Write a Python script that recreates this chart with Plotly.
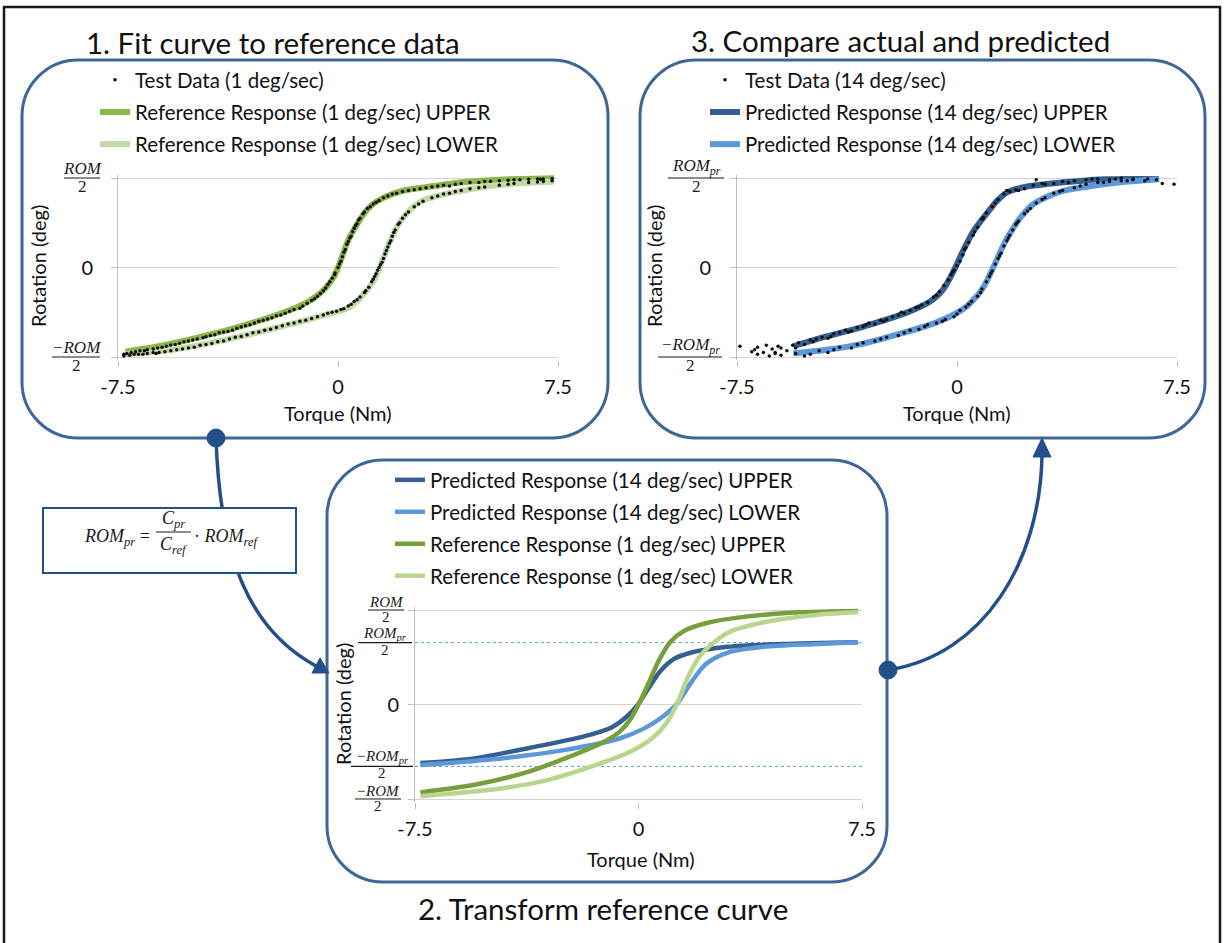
import plotly.graph_objects as go

W, H = 1225, 943
FONT = "Lato, 'Open Sans', sans-serif"
SERIF = "'Liberation Serif', 'DejaVu Serif', serif"

# ---------------- data ----------------
X_TICK_VALS = [-7.5, 0, 7.5]
X_TICK_TEXT = ["-7.5", "0", "7.5"]
Y_TICK_VALS = [0]
Y_TICK_TEXT = ["0"]
Y_EDGE_VALS = [-1, 1]          # ±ROM/2 (or ±ROM_pr/2) gridlines, labelled as fractions
ROM_PR_RATIO = 0.655           # ROM_pr / ROM, panel 2 dotted lines

# Panel 1 : reference fit (1 deg/sec), y in units of ROM/2
REF1_UPPER_X = [-7.25, -6.2, -5.0, -4.0, -3.1, -2.4, -1.83, -1.4, -1.06, -0.8, -0.55, -0.35, -0.17, 0.0, 0.18,
                0.34, 0.5, 0.66, 0.82, 0.98, 1.2, 1.49, 1.85, 2.26, 2.7, 3.28, 3.9, 4.56, 5.2, 5.84, 6.6, 7.37]
REF1_UPPER_Y = [-0.94, -0.885, -0.80, -0.72, -0.635, -0.565, -0.50, -0.445, -0.39, -0.335, -0.27, -0.20, -0.12, 0.0,
                0.16, 0.30, 0.40, 0.49, 0.57, 0.64, 0.71, 0.77, 0.82, 0.86, 0.885, 0.91, 0.94, 0.96, 0.975, 0.985,
                0.993, 1.0]
REF1_LOWER_X = [-7.25, -6.5, -5.66, -4.7, -3.74, -2.8, -1.83, -1.2, -0.55, 0.22, 0.5, 0.73, 0.95, 1.11, 1.28, 1.43,
                1.56, 1.69, 1.85, 2.0, 2.2, 2.39, 2.6, 2.9, 3.4, 3.92, 4.5, 5.2, 6.2, 7.37]
REF1_LOWER_Y = [-0.97, -0.95, -0.92, -0.865, -0.80, -0.73, -0.65, -0.60, -0.54, -0.47, -0.42, -0.35, -0.27, -0.20,
                -0.11, 0.01, 0.12, 0.23, 0.35, 0.45, 0.55, 0.62, 0.69, 0.75, 0.80, 0.84, 0.875, 0.91, 0.94, 0.96]

TEST1_UPPER_X = [-7.2, -7.05, -6.9, -6.75, -6.5, -6.3, -6.0, -5.85, -5.7, -5.4, -5.1, -4.8, -4.6, -4.5, -4.2, -3.9,
                 -3.75, -3.6, -3.3, -3.0, -2.85, -2.7, -2.4, -2.1, -1.95, -1.8, -1.5, -1.3, -1.2, -0.9, -0.8, -0.7,
                 -0.5, -0.42, -0.35, -0.2, -0.12, -0.1, 0.0, 0.05, 0.1, 0.2, 0.25, 0.3, 0.4, 0.45, 0.5, 0.6, 0.7,
                 0.75, 0.85, 1.0, 1.1, 1.2, 1.4, 1.55, 1.7, 2.0, 2.2, 2.4, 2.8, 3.0, 3.2, 3.6, 3.8, 4.0, 4.5, 4.8,
                 5.0, 5.5, 5.8, 6.0, 6.5, 6.8, 7.0, 7.3,
                 -7.3, -6.6, -6.15, -5.55, -5.25, -4.95, -4.35, -4.05, -3.45, -3.15, -2.55, -2.25, -1.65, -1.05,
                 -0.6, -0.28, 0.15, 0.35, 0.55, 0.65, 0.9, 1.3, 1.85, 2.6, 3.4, 4.2, 5.2, 6.2, 6.9]
TEST1_UPPER_Y = [-0.96, -0.95, -0.94, -0.93, -0.92, -0.91, -0.89, -0.88, -0.865, -0.845, -0.82, -0.80, -0.785, -0.775,
                 -0.75, -0.72, -0.715, -0.70, -0.665, -0.64, -0.62, -0.60, -0.575, -0.54, -0.53, -0.51, -0.47, -0.455,
                 -0.43, -0.37, -0.35, -0.32, -0.26, -0.23, -0.19, -0.12, -0.08, -0.06, 0.0, 0.04, 0.07, 0.17, 0.20,
                 0.26, 0.33, 0.35, 0.40, 0.47, 0.53, 0.55, 0.60, 0.66, 0.68, 0.71, 0.75, 0.78, 0.80, 0.83, 0.85,
                 0.86, 0.88, 0.89, 0.90, 0.92, 0.91, 0.93, 0.95, 0.95, 0.96, 0.97, 0.975, 0.98, 0.985, 0.99,
                 0.99, 0.995,
                 -0.97, -0.93, -0.90, -0.86, -0.83, -0.81, -0.76, -0.73, -0.68, -0.65, -0.59, -0.56, -0.49, -0.40,
                 -0.29, -0.16, 0.12, 0.29, 0.44, 0.49, 0.62, 0.73, 0.82, 0.87, 0.91, 0.94, 0.965, 0.98, 0.985]
TEST1_LOWER_X = [-7.1, -6.95, -6.8, -6.5, -6.3, -6.1, -5.7, -5.5, -5.3, -4.9, -4.7, -4.5, -4.1, -3.9, -3.7, -3.3,
                 -3.1, -2.9, -2.5, -2.3, -2.1, -1.7, -1.5, -1.3, -0.9, -0.7, -0.5, -0.2, -0.05, 0.1, 0.35, 0.45,
                 0.55, 0.75, 0.9, 1.05, 1.15, 1.25, 1.3, 1.35, 1.45, 1.5, 1.55, 1.65, 1.75, 1.8, 1.85, 1.95, 2.05,
                 2.2, 2.4, 2.6, 2.9, 3.2, 3.6, 4.0, 4.2, 4.5, 5.0, 5.5, 6.0, 6.5, 7.0, 7.3,
                 -7.3, -6.65, -6.2, -5.9, -5.1, -4.3, -3.5, -2.7, -1.9, -1.1, -0.35, 0.2, 0.65, 0.95, 1.2, 1.4,
                 1.6, 1.7, 1.9, 2.1, 2.3, 2.75, 3.4, 3.8, 4.8, 5.8, 6.8]
TEST1_LOWER_Y = [-0.98, -0.97, -0.97, -0.96, -0.95, -0.95, -0.93, -0.92, -0.91, -0.89, -0.87, -0.86, -0.83, -0.82,
                 -0.80, -0.77, -0.75, -0.73, -0.70, -0.69, -0.67, -0.63, -0.62, -0.60, -0.57, -0.55, -0.53, -0.50,
                 -0.49, -0.47, -0.43, -0.41, -0.38, -0.33, -0.28, -0.22, -0.16, -0.10, -0.07, -0.03, 0.03, 0.06,
                 0.10, 0.19, 0.27, 0.30, 0.35, 0.42, 0.48, 0.55, 0.62, 0.68, 0.74, 0.78, 0.82, 0.85, 0.86, 0.88,
                 0.90, 0.92, 0.94, 0.95, 0.96, 0.97,
                 -0.99, -0.97, -0.96, -0.94, -0.90, -0.85, -0.78, -0.72, -0.65, -0.59, -0.51, -0.46, -0.36, -0.26,
                 -0.13, 0.0, 0.15, 0.23, 0.39, 0.50, 0.59, 0.71, 0.80, 0.83, 0.89, 0.93, 0.955]

# Panel 3 : predicted response (14 deg/sec), y in units of ROM_pr/2
PRED3_UPPER_X = [-5.58, -4.45, -3.19, -1.93, -1.4, -0.92, -0.62, -0.42, -0.10, 0.21, 0.59, 1.10, 1.38, 1.66, 2.0,
                 2.48, 3.1, 3.74, 4.4, 5.0, 5.9, 6.89]
PRED3_UPPER_Y = [-0.88, -0.77, -0.66, -0.53, -0.46, -0.38, -0.30, -0.22, -0.03, 0.19, 0.42, 0.64, 0.75, 0.83, 0.875,
                 0.91, 0.935, 0.955, 0.972, 0.985, 0.99, 0.99]
PRED3_LOWER_X = [-5.58, -4.45, -3.19, -1.93, -0.67, 0.09, 0.35, 0.59, 0.8, 0.97, 1.12, 1.28, 1.47, 1.66, 1.88, 2.10,
                 2.35, 2.61, 3.0, 3.36, 3.8, 4.37, 5.0, 5.63, 6.3, 6.89]
PRED3_LOWER_Y = [-0.96, -0.92, -0.85, -0.74, -0.61, -0.49, -0.43, -0.35, -0.27, -0.18, -0.08, 0.03, 0.17, 0.30, 0.42,
                 0.53, 0.63, 0.71, 0.78, 0.83, 0.87, 0.90, 0.93, 0.955, 0.972, 0.985]

TEST3_UPPER_X = [-7.4, -6.8, -6.5, -6.3, -6.2, -6.0, -5.8, -5.6, -5.4, -5.2, -5.0, -4.8, -4.6, -4.4, -4.2, -4.0, -3.8,
                 -3.6, -3.4, -3.2, -3.0, -2.8, -2.6, -2.4, -2.2, -2.0, -1.8, -1.6, -1.4, -1.2, -1.0, -0.8, -0.6,
                 -0.45, -0.3, -0.2, -0.1, 0.0, 0.1, 0.2, 0.3, 0.4, 0.55, 0.7, 0.85, 1.0, 1.2, 1.4, 1.6, 1.8, 2.0,
                 2.3, 2.6, 2.7, 3.0, 3.3, 3.6, 4.0, 4.4, 4.8, 5.2, 5.6, 6.0, 6.4,
                 -6.9, -6.1, -5.5, -4.9, -4.3, -3.7, -3.1, -2.5, -1.9, -1.3, -0.7, -0.15, 0.25, 0.6, 0.9, 1.3, 1.7,
                 2.1, 2.9, 3.8, 4.6, 5.4]
TEST3_UPPER_Y = [-0.88, -0.89, -0.87, -0.91, -0.96, -0.90, -0.93, -0.87, -0.84, -0.86, -0.81, -0.80, -0.78, -0.79,
                 -0.74, -0.73, -0.70, -0.71, -0.67, -0.66, -0.62, -0.63, -0.59, -0.58, -0.55, -0.53, -0.51, -0.48,
                 -0.45, -0.42, -0.39, -0.33, -0.27, -0.20, -0.14, -0.08, -0.03, 0.02, 0.07, 0.14, 0.22, 0.28, 0.36,
                 0.45, 0.54, 0.61, 0.68, 0.76, 0.82, 0.85, 0.87, 0.88, 0.92, 0.98, 0.93, 0.94, 0.96, 0.97, 0.98,
                 0.99, 0.98, 1.0, 0.99, 0.97,
                 -0.92, -0.88, -0.90, -0.83, -0.77, -0.72, -0.64, -0.60, -0.50, -0.44, -0.31, -0.05, 0.20, 0.40,
                 0.56, 0.72, 0.86, 0.86, 0.94, 0.95, 0.99, 0.99]
TEST3_LOWER_X = [-7.0, -6.6, -6.4, -6.0, -5.5, -5.0, -4.7, -4.4, -4.0, -3.6, -3.2, -2.8, -2.4, -2.0, -1.6, -1.3, -1.0,
                 -0.7, -0.4, -0.1, 0.1, 0.3, 0.5, 0.7, 0.85, 1.0, 1.1, 1.2, 1.3, 1.4, 1.5, 1.6, 1.7, 1.8, 1.9, 2.0,
                 2.1, 2.3, 2.5, 2.7, 3.0, 3.3, 3.6, 4.0, 4.4, 4.8, 5.2, 5.6, 6.0, 6.5, 7.0, 7.4,
                 -6.8, -6.2, -5.2, -4.2, -3.4, -2.6, -1.8, -1.1, -0.5, 0.0, 0.4, 0.8, 1.15, 1.45, 1.75, 2.05, 2.4,
                 2.9, 3.5, 4.2, 5.0, 5.8, 6.8]
TEST3_LOWER_Y = [-0.94, -0.95, -0.99, -0.98, -0.96, -0.97, -0.93, -0.95, -0.89, -0.90, -0.84, -0.82, -0.78, -0.76,
                 -0.70, -0.69, -0.64, -0.62, -0.58, -0.55, -0.48, -0.44, -0.38, -0.32, -0.24, -0.16, -0.10, -0.04,
                 0.04, 0.10, 0.16, 0.24, 0.30, 0.36, 0.42, 0.48, 0.52, 0.60, 0.66, 0.72, 0.78, 0.83, 0.86, 0.89,
                 0.93, 0.95, 0.96, 0.97, 0.98, 0.99, 0.94, 0.93,
                 -0.97, -0.95, -0.99, -0.92, -0.86, -0.80, -0.73, -0.66, -0.60, -0.52, -0.41, -0.28, -0.07, 0.13,
                 0.33, 0.50, 0.63, 0.76, 0.85, 0.91, 0.95, 0.97, 0.98]

# Panel 2 : transform, y in units of ROM/2
PRED2_UPPER_X = [-7.32, -5.5, -3.68, -1.86, -0.89, -0.40, -0.04, 0.33, 0.75, 1.18, 1.78, 3.0, 4.82, 7.37]
PRED2_UPPER_Y = [-0.62, -0.57, -0.46, -0.34, -0.24, -0.13, -0.01, 0.17, 0.36, 0.48, 0.55, 0.61, 0.64, 0.66]
PRED2_LOWER_X = [-7.32, -4.89, -2.46, -0.64, 0.21, 0.81, 1.30, 1.78, 2.27, 3.0, 4.21, 6.03, 7.37]
PRED2_LOWER_Y = [-0.64, -0.58, -0.48, -0.36, -0.25, -0.13, 0.01, 0.24, 0.43, 0.55, 0.61, 0.64, 0.66]
REF2_UPPER_X = [-7.32, -5.5, -3.68, -2.46, -1.25, -0.64, -0.28, 0.02, 0.33, 0.69, 1.06, 1.54, 2.39, 3.6, 5.42, 7.37]
REF2_UPPER_Y = [-0.93, -0.85, -0.71, -0.57, -0.41, -0.29, -0.16, 0.01, 0.22, 0.47, 0.66, 0.78, 0.87, 0.93, 0.975, 0.99]
REF2_LOWER_X = [-7.32, -4.89, -3.07, -1.25, -0.28, 0.45, 0.93, 1.30, 1.66, 2.03, 2.39, 3.0, 4.21, 6.03, 7.37]
REF2_LOWER_Y = [-0.97, -0.90, -0.80, -0.62, -0.50, -0.36, -0.20, 0.01, 0.29, 0.50, 0.62, 0.76, 0.87, 0.95, 0.975]

# colours
GREEN_UP, GREEN_LO = "#8CB648", "#C4DAA6"
GREEN2_UP, GREEN2_LO = "#77A03C", "#B9D58E"
BLUE_UP, BLUE_LO = "#355E91", "#5C98DA"
BOX = "#3E6799"
CONN = "#23508A"


# ---------------- helpers (pixel -> paper) ----------------
def X(px):
    return px / W


def Y(py):
    return 1 - py / H


YPAD = 0.03


def ydomain(top_px, bot_px):
    unit = (bot_px - top_px) / 2.0
    return [Y(bot_px + YPAD * unit), Y(top_px - YPAD * unit)]


DOM_Y_TOP = ydomain(178, 357)
DOM_Y_MID = ydomain(610, 799)


def val_to_paper(dom, v):
    return dom[0] + (v + 1 + YPAD) / (2 + 2 * YPAD) * (dom[1] - dom[0])


fig = go.Figure()


def line_trace(xs, ys, color, width, name, leg, rank, xa, ya):
    fig.add_trace(go.Scatter(x=xs, y=ys, mode="lines",
                             line=dict(color=color, width=width, shape="spline", smoothing=0.8),
                             name=name, legend=leg, legendrank=rank, legendgroup=f"{leg}-{rank}",
                             xaxis=xa, yaxis=ya, hoverinfo="skip"))


def dots_trace(xs, ys, name, leg, rank, xa, ya):
    fig.add_trace(go.Scatter(x=xs, y=ys, mode="markers", marker=dict(color="#111", size=3.5), cliponaxis=False,
                             name=name, legend=leg, legendrank=rank, legendgroup=f"{leg}-{rank}",
                             xaxis=xa, yaxis=ya, hoverinfo="skip"))


# Panel 1
line_trace(REF1_UPPER_X, REF1_UPPER_Y, GREEN_UP, 6, "Reference Response (1 deg/sec) UPPER", "legend", 2, "x", "y")
line_trace(REF1_LOWER_X, REF1_LOWER_Y, GREEN_LO, 6, "Reference Response (1 deg/sec) LOWER", "legend", 3, "x", "y")
dots_trace(TEST1_UPPER_X + TEST1_LOWER_X, TEST1_UPPER_Y + TEST1_LOWER_Y, "Test Data (1 deg/sec)", "legend", 1, "x", "y")
# Panel 3
line_trace(PRED3_UPPER_X, PRED3_UPPER_Y, BLUE_UP, 6, "Predicted Response (14 deg/sec) UPPER", "legend2", 2, "x2", "y2")
line_trace(PRED3_LOWER_X, PRED3_LOWER_Y, BLUE_LO, 6, "Predicted Response (14 deg/sec) LOWER", "legend2", 3, "x2", "y2")
dots_trace(TEST3_UPPER_X + TEST3_LOWER_X, TEST3_UPPER_Y + TEST3_LOWER_Y, "Test Data (14 deg/sec)", "legend2", 1, "x2", "y2")
# Panel 2
line_trace(PRED2_UPPER_X, PRED2_UPPER_Y, BLUE_UP, 4.5, "Predicted Response (14 deg/sec) UPPER", "legend3", 1, "x3", "y3")
line_trace(PRED2_LOWER_X, PRED2_LOWER_Y, BLUE_LO, 4.5, "Predicted Response (14 deg/sec) LOWER", "legend3", 2, "x3", "y3")
line_trace(REF2_UPPER_X, REF2_UPPER_Y, GREEN2_UP, 4.5, "Reference Response (1 deg/sec) UPPER", "legend3", 3, "x3", "y3")
line_trace(REF2_LOWER_X, REF2_LOWER_Y, GREEN2_LO, 4.5, "Reference Response (1 deg/sec) LOWER", "legend3", 4, "x3", "y3")

TICKFONT = dict(size=20, family=FONT, color="#111")


def xaxis(domain, anchor):
    return dict(domain=domain, anchor=anchor, range=[-7.5, 7.5], tickvals=X_TICK_VALS, ticktext=X_TICK_TEXT,
                ticks="outside", ticklen=6, tickcolor="#BFBFBF", showgrid=False, zeroline=False, showline=False,
                tickfont=TICKFONT, ticklabelstandoff=3, fixedrange=True)


def yaxis(domain, anchor, standoff):
    return dict(domain=domain, anchor=anchor, range=[-1 - YPAD, 1 + YPAD], tickvals=Y_TICK_VALS, ticktext=Y_TICK_TEXT,
                ticks="outside", ticklen=6, tickcolor="#BFBFBF", showgrid=True, gridcolor="#D5D5D5", gridwidth=1,
                minor=dict(tickvals=Y_EDGE_VALS, ticks="outside", ticklen=6, tickcolor="#BFBFBF", showgrid=True,
                           gridcolor="#D5D5D5", gridwidth=1),
                zeroline=False, showline=True, linecolor="#BFBFBF", linewidth=1, tickfont=TICKFONT,
                ticklabelstandoff=standoff, fixedrange=True)


shapes = []
annotations = []


def rrect(x0, y0, x1, y1, r, color, width):
    k = 0.5523 * r
    p = (f"M {X(x0 + r)},{Y(y0)} L {X(x1 - r)},{Y(y0)} "
         f"C {X(x1 - r + k)},{Y(y0)} {X(x1)},{Y(y0 + r - k)} {X(x1)},{Y(y0 + r)} "
         f"L {X(x1)},{Y(y1 - r)} "
         f"C {X(x1)},{Y(y1 - r + k)} {X(x1 - r + k)},{Y(y1)} {X(x1 - r)},{Y(y1)} "
         f"L {X(x0 + r)},{Y(y1)} "
         f"C {X(x0 + r - k)},{Y(y1)} {X(x0)},{Y(y1 - r + k)} {X(x0)},{Y(y1 - r)} "
         f"L {X(x0)},{Y(y0 + r)} "
         f"C {X(x0)},{Y(y0 + r - k)} {X(x0 + r - k)},{Y(y0)} {X(x0 + r)},{Y(y0)} Z")
    shapes.append(dict(type="path", xref="paper", yref="paper", path=p, line=dict(color=color, width=width)))


def bezier(p0, p1, p2, p3, color, width):
    p = f"M {X(p0[0])},{Y(p0[1])} C {X(p1[0])},{Y(p1[1])} {X(p2[0])},{Y(p2[1])} {X(p3[0])},{Y(p3[1])}"
    shapes.append(dict(type="path", xref="paper", yref="paper", path=p, line=dict(color=color, width=width)))


def triangle(tip, b1, b2, color):
    p = f"M {X(tip[0])},{Y(tip[1])} L {X(b1[0])},{Y(b1[1])} L {X(b2[0])},{Y(b2[1])} Z"
    shapes.append(dict(type="path", xref="paper", yref="paper", path=p, fillcolor=color, line=dict(color=color, width=1)))


def dot(cx, cy, r, color):
    shapes.append(dict(type="circle", xref="paper", yref="paper", x0=X(cx - r), x1=X(cx + r), y0=Y(cy + r), y1=Y(cy - r),
                       fillcolor=color, line=dict(color=color, width=1)))


def frac(xc, dom, v, num, den, half, size=17):
    f = dict(family=SERIF, size=size, color="#1a1a1a")
    yp = val_to_paper(dom, v)
    annotations.append(dict(x=X(xc), xref="paper", y=yp, yref="paper", text=num, showarrow=False, xanchor="center",
                            yanchor="bottom", yshift=-2, font=f))
    annotations.append(dict(x=X(xc), xref="paper", y=yp, yref="paper", text=den, showarrow=False, xanchor="center",
                            yanchor="top", yshift=3, font=f))
    shapes.append(dict(type="line", xref="paper", yref="paper", x0=X(xc - half), x1=X(xc + half), y0=yp, y1=yp,
                       line=dict(color="#1a1a1a", width=1.2)))


def text(px, py, s, size, angle=0, family=FONT):
    annotations.append(dict(x=X(px), y=Y(py), xref="paper", yref="paper", text=s, showarrow=False, xanchor="center",
                            yanchor="middle", textangle=angle, font=dict(family=family, size=size, color="#111")))


# outer frame
shapes.append(dict(type="rect", xref="paper", yref="paper", x0=X(4), x1=X(1220), y0=Y(965), y1=Y(7),
                   line=dict(color="#1a1a1a", width=2.5)))

# panel boxes
rrect(22, 60, 608, 438, 56, BOX, 3)
rrect(640, 60, 1205, 438, 56, BOX, 3)
rrect(327, 460, 887, 882, 56, BOX, 3)

# connectors
bezier((216, 438), (220, 560), (250, 630), (316, 666), CONN, 3.5)
triangle((329, 673), (312, 673), (320, 658), CONN)
dot(216, 438, 9, CONN)
bezier((888, 670), (985, 655), (1040, 560), (1042, 456), CONN, 3.5)
triangle((1042, 438), (1033, 457), (1051, 457), CONN)
dot(888, 670, 9, CONN)

# formula box
shapes.append(dict(type="rect", xref="paper", yref="paper", x0=X(43), x1=X(296), y0=Y(573), y1=Y(508),
                   fillcolor="white", line=dict(color=CONN, width=2)))
FORM = dict(family=SERIF, size=18, color="#1a1a1a")
annotations.append(dict(x=X(152), y=Y(537), xref="paper", yref="paper", xanchor="right", yanchor="middle",
                        text="<i>ROM<sub>pr</sub></i> =", showarrow=False, font=FORM))
annotations.append(dict(x=X(173), y=Y(533), xref="paper", yref="paper", xanchor="center", yanchor="bottom",
                        text="<i>C<sub>pr</sub></i>", showarrow=False, font=FORM))
annotations.append(dict(x=X(173), y=Y(532), xref="paper", yref="paper", xanchor="center", yanchor="top",
                        text="<i>C<sub>ref</sub></i>", showarrow=False, font=FORM))
shapes.append(dict(type="line", xref="paper", yref="paper", x0=X(156), x1=X(191), y0=Y(532), y1=Y(532),
                   line=dict(color="#1a1a1a", width=1)))
annotations.append(dict(x=X(192), y=Y(537), xref="paper", yref="paper", xanchor="left", yanchor="middle",
                        text="· <i>ROM<sub>ref</sub></i>", showarrow=False, font=FORM))

# dotted ROM_pr lines in panel 2
for yv in (ROM_PR_RATIO, -ROM_PR_RATIO):
    shapes.append(dict(type="line", xref="x3", yref="y3", x0=-7.5, x1=7.5, y0=yv, y1=yv, layer="below",
                       line=dict(color="#5B9BD5", width=1, dash="dot")))

# fraction tick labels
frac(82, DOM_Y_TOP, 1, "<i>ROM</i>", "2", 18)
frac(76, DOM_Y_TOP, -1, "<i>−ROM</i>", "2", 24)
frac(696, DOM_Y_TOP, 1, "<i>ROM<sub>pr</sub></i>", "2", 28)
frac(690, DOM_Y_TOP, -1, "<i>−ROM<sub>pr</sub></i>", "2", 32)
frac(386, DOM_Y_MID, 1, "<i>ROM</i>", "2", 18, 15)
frac(385, DOM_Y_MID, ROM_PR_RATIO, "<i>ROM<sub>pr</sub></i>", "2", 27, 15)
frac(382, DOM_Y_MID, -ROM_PR_RATIO, "<i>−ROM<sub>pr</sub></i>", "2", 31, 15)
frac(378, DOM_Y_MID, -1, "<i>−ROM</i>", "2", 23, 15)

# titles
text(273, 42, "1. Fit curve to reference data", 29.5)
text(900, 40, "3. Compare actual and predicted", 29.5)
text(603, 908, "2. Transform reference curve", 29.5)

# axis titles
text(338, 413, "Torque (Nm)", 20)
text(957, 413, "Torque (Nm)", 20)
text(641, 859, "Torque (Nm)", 20)
text(38, 266, "Rotation (deg)", 20, -90)
text(654, 266, "Rotation (deg)", 20, -90)
text(343, 704, "Rotation (deg)", 20, -90)

LEGFONT = dict(size=20.5, family=FONT, color="#111")


def legend(xpx, ypx, gap):
    return dict(x=X(xpx), y=Y(ypx), xanchor="left", yanchor="top", bgcolor="rgba(0,0,0,0)", font=LEGFONT,
                tracegroupgap=gap, borderwidth=0, itemclick=False, itemdoubleclick=False)


fig.update_layout(
    width=W, height=H, margin=dict(l=0, r=0, t=0, b=0, pad=0, autoexpand=False), autosize=False,
    paper_bgcolor="white", plot_bgcolor="white",
    xaxis=xaxis([X(118), X(558)], "y"),
    yaxis=yaxis(DOM_Y_TOP, "x", 14),
    xaxis2=xaxis([X(737), X(1177)], "y2"),
    yaxis2=yaxis(DOM_Y_TOP, "x2", 15),
    xaxis3=xaxis([X(415), X(862)], "y3"),
    yaxis3=yaxis(DOM_Y_MID, "x3", 5),
    legend=legend(95, 60, 2.5),
    legend2=legend(705, 60, 2.5),
    legend3=legend(390, 460, 2.3),
    shapes=shapes,
    annotations=annotations,
    showlegend=True,
)

fig.write_html("out.html")
